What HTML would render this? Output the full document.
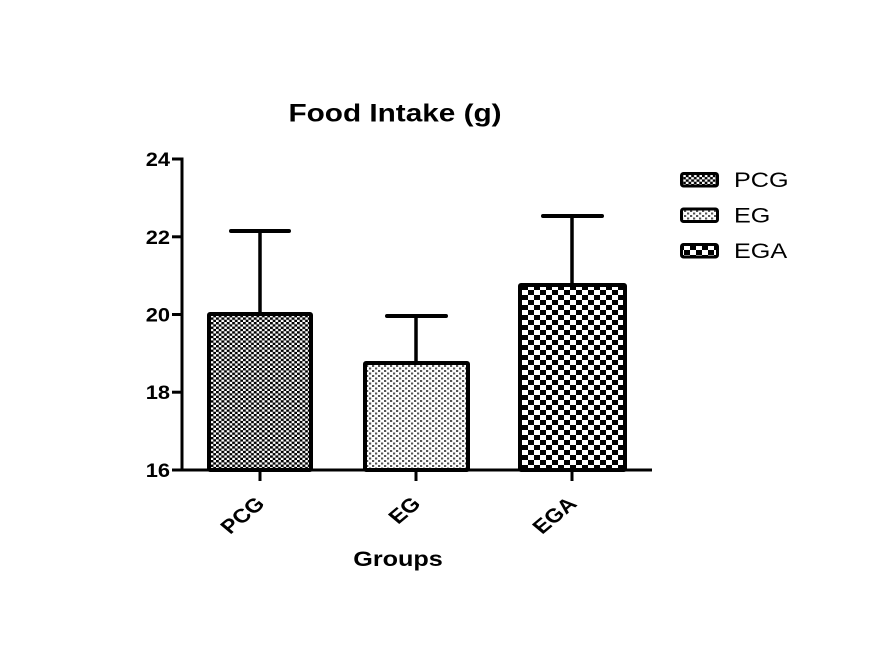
<!DOCTYPE html>
<html>
<head>
<meta charset="utf-8">
<style>
  html,body{margin:0;padding:0;background:#fff;}
  svg{display:block;}
  text{font-family:"Liberation Sans",Arial,sans-serif;fill:#000;}
</style>
</head>
<body>
<svg width="876" height="651" viewBox="0 0 876 651" xmlns="http://www.w3.org/2000/svg">
  <defs>
    <pattern id="pPCG" patternUnits="userSpaceOnUse" width="5.4" height="4.6">
      <rect width="5.4" height="4.6" fill="#fff"/>
      <rect x="0" y="0" width="2.9" height="2.4" fill="#000"/>
      <rect x="2.7" y="2.3" width="2.9" height="2.4" fill="#000"/>
      <rect x="2.7" y="0" width="0.4" height="2.3" fill="#888"/>
    </pattern>
    <pattern id="pEG" patternUnits="userSpaceOnUse" width="6" height="5">
      <rect width="6" height="5" fill="#fff"/>
      <rect x="0" y="0" width="2.2" height="2" fill="#555"/>
      <rect x="3" y="2.5" width="2.2" height="2" fill="#555"/>
    </pattern>
    <pattern id="pEGA" patternUnits="userSpaceOnUse" width="12" height="10">
      <rect width="12" height="10" fill="#fff"/>
      <rect x="0" y="0" width="6" height="5" fill="#000"/>
      <rect x="6" y="5" width="6" height="5" fill="#000"/>
    </pattern>
  </defs>

  <!-- Title -->
  <text transform="translate(395,121.5) scale(1.2,1)" text-anchor="middle" font-size="24.8" font-weight="bold">Food Intake (g)</text>

  <!-- Bars -->
  <rect x="209" y="314" width="102" height="156" fill="url(#pPCG)" stroke="#000" stroke-width="4" rx="1"/>
  <rect x="365" y="363" width="103" height="107" fill="url(#pEG)" stroke="#000" stroke-width="4" rx="1"/>
  <rect x="520" y="285" width="105" height="185" fill="url(#pEGA)" stroke="#000" stroke-width="4" rx="1"/>

  <!-- Error bars -->
  <g stroke="#000" stroke-linecap="round">
    <line x1="260" y1="312" x2="260" y2="231" stroke-width="3.5"/>
    <line x1="231" y1="231" x2="289" y2="231" stroke-width="4"/>
    <line x1="416" y1="361" x2="416" y2="316" stroke-width="3.5"/>
    <line x1="387" y1="316" x2="446" y2="316" stroke-width="4"/>
    <line x1="572" y1="283" x2="572" y2="216" stroke-width="3.5"/>
    <line x1="543" y1="216" x2="602" y2="216" stroke-width="4"/>
  </g>

  <!-- Axes -->
  <g stroke="#000" stroke-width="3">
    <line x1="182" y1="157.5" x2="182" y2="471.5"/>
    <line x1="180.5" y1="470" x2="652" y2="470"/>
    <line x1="172" y1="159" x2="182" y2="159"/>
    <line x1="172" y1="236.8" x2="182" y2="236.8"/>
    <line x1="172" y1="314.5" x2="182" y2="314.5"/>
    <line x1="172" y1="392.2" x2="182" y2="392.2"/>
    <line x1="172" y1="470" x2="182" y2="470"/>
    <line x1="260" y1="470" x2="260" y2="481"/>
    <line x1="416" y1="470" x2="416" y2="481"/>
    <line x1="572" y1="470" x2="572" y2="481"/>
  </g>

  <!-- Y tick labels -->
  <g font-size="19" font-weight="bold" text-anchor="end">
    <text transform="translate(170,166) scale(1.15,1)">24</text>
    <text transform="translate(170,243.8) scale(1.15,1)">22</text>
    <text transform="translate(170,321.5) scale(1.15,1)">20</text>
    <text transform="translate(170,399.2) scale(1.15,1)">18</text>
    <text transform="translate(170,477) scale(1.15,1)">16</text>
  </g>

  <!-- X tick labels (rotated) -->
  <g font-size="19.5" font-weight="bold" text-anchor="end">
    <text transform="translate(266,505) scale(1.2,1) rotate(-45)">PCG</text>
    <text transform="translate(422,505) scale(1.2,1) rotate(-45)">EG</text>
    <text transform="translate(578,505) scale(1.2,1) rotate(-45)">EGA</text>
  </g>

  <!-- X axis title -->
  <text transform="translate(398,566) scale(1.2,1)" text-anchor="middle" font-size="21" font-weight="bold">Groups</text>

  <!-- Legend -->
  <rect x="681.5" y="173.5" width="36" height="12.5" fill="url(#pPCG)" stroke="#000" stroke-width="3" rx="2"/>
  <rect x="681.5" y="209" width="36" height="12.5" fill="url(#pEG)" stroke="#000" stroke-width="3" rx="2"/>
  <rect x="681.5" y="244.5" width="36" height="12.5" fill="url(#pEGA)" stroke="#000" stroke-width="3" rx="2"/>
  <g font-size="21">
    <text transform="translate(734,187) scale(1.2,1)">PCG</text>
    <text transform="translate(734,222.5) scale(1.2,1)">EG</text>
    <text transform="translate(734,258) scale(1.2,1)">EGA</text>
  </g>
</svg>
</body>
</html>
